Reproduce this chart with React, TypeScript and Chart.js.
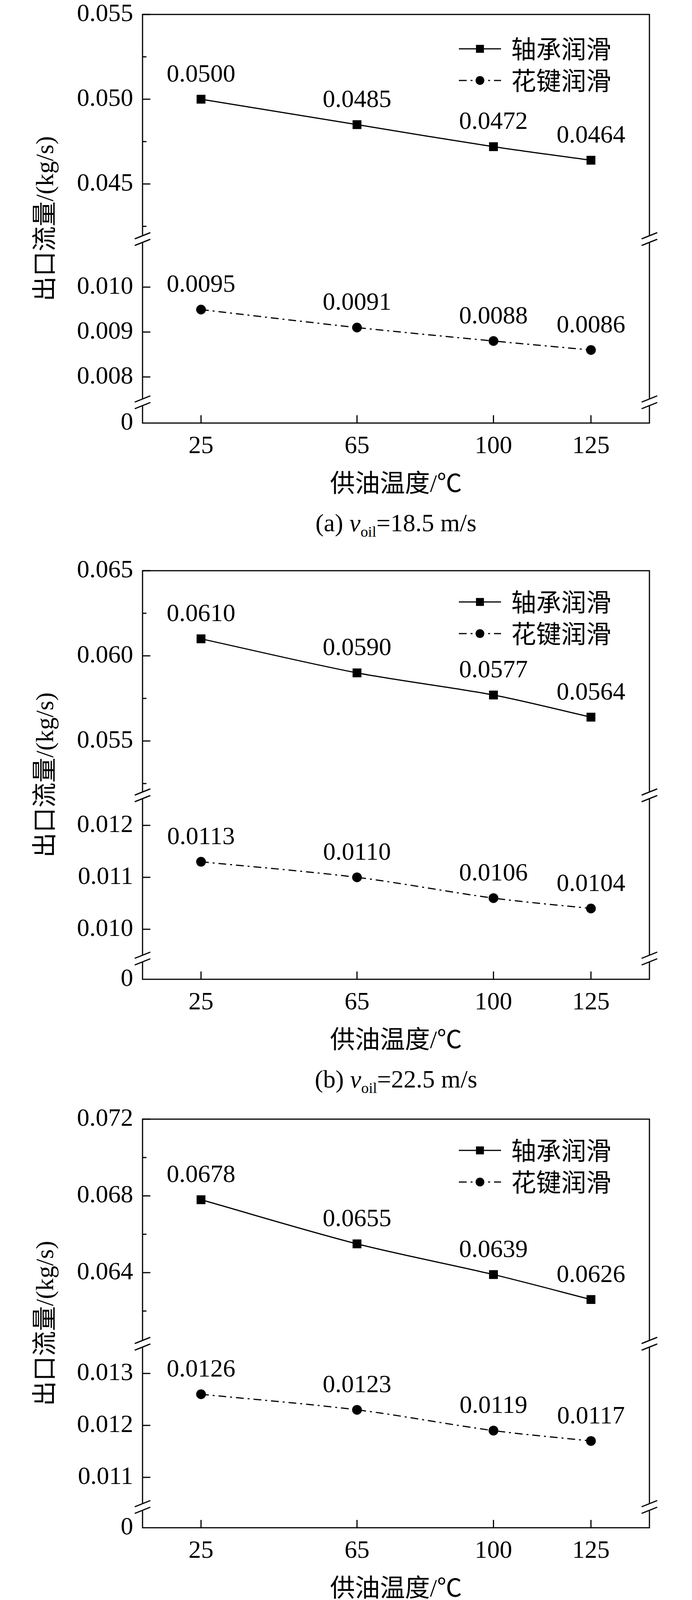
import { useEffect, useRef } from "react";
import { Chart, LinearScale, registerables } from "chart.js";

Chart.register(...registerables);

// supply oil temperature (℃)
const temps = [25, 65, 100, 125];

// outlet flow (kg/s)
const bearingA = [0.05, 0.0485, 0.0472, 0.0464];
const splineA = [0.0095, 0.0091, 0.0088, 0.0086];
const bearingB = [0.061, 0.059, 0.0577, 0.0564];
const splineB = [0.0113, 0.011, 0.0106, 0.0104];
const bearingC = [0.0678, 0.0655, 0.0639, 0.0626];
const splineC = [0.0126, 0.0123, 0.0119, 0.0117];

const seriesNames = ["轴承润滑", "花键润滑"];

// y tick labels and minor ticks per panel
const yTicksA = [0, 0.008, 0.009, 0.01, 0.045, 0.05, 0.055];
const yMinorA = [0.0425, 0.0475, 0.0525];
const yTicksB = [0, 0.01, 0.011, 0.012, 0.055, 0.06, 0.065];
const yMinorB = [0.0525, 0.0575, 0.0625];
const yTicksC = [0, 0.011, 0.012, 0.013, 0.064, 0.068, 0.072];
const yMinorC = [0.062, 0.066, 0.07];

// visible value ranges of the broken y axis (lower part, upper part)
const lowerA = [0.007435, 0.01107];
const upperA = [0.04175, 0.055];
const lowerB = [0.009436, 0.012579];
const upperB = [0.05181, 0.065];
const lowerC = [0.010429, 0.013572];
const upperC = [0.060295, 0.072];

const SERIF = "'Liberation Serif', 'Times New Roman', Times, serif";
const MIXED = "'Liberation Serif', 'Times New Roman', Times, serif, 'Noto Sans CJK SC'";
const CJK = "'Noto Sans CJK SC', sans-serif";

// fraction of the plot height where each part of the broken axis ends
const ZERO_END = 0.0507;
const LOWER_END = 0.4503;

// linear scale with two axis breaks: 0 | lower band | upper band
class BrokenScale extends LinearScale {
  static id = "broken";
  static defaults = LinearScale.defaults;

  getPixelForValue(value: number) {
    const lo = (this.options as any).lower;
    const up = (this.options as any).upper;
    let d;
    if (value <= lo[0]) d = (value / lo[0]) * ZERO_END;
    else if (value <= lo[1])
      d = ZERO_END + ((value - lo[0]) / (lo[1] - lo[0])) * (LOWER_END - ZERO_END);
    else if (value < up[0]) d = LOWER_END;
    else d = LOWER_END + ((value - up[0]) / (up[1] - up[0])) * (1 - LOWER_END);
    return this.getPixelForDecimal(d);
  }

  getValueForPixel(pixel: number) {
    const lo = (this.options as any).lower;
    const up = (this.options as any).upper;
    const d = this.getDecimalForPixel(pixel);
    if (d <= ZERO_END) return (d / ZERO_END) * lo[0];
    if (d <= LOWER_END)
      return lo[0] + ((d - ZERO_END) / (LOWER_END - ZERO_END)) * (lo[1] - lo[0]);
    return up[0] + ((d - LOWER_END) / (1 - LOWER_END)) * (up[1] - up[0]);
  }
}
Chart.register(BrokenScale);

type PanelProps = {
  top: number;
  bearing: number[];
  spline: number[];
  yTicks: number[];
  yMinor: number[];
  lower: number[];
  upper: number[];
  letter: string;
  speed: string;
  legendTop: number;
};

const Panel = (p: PanelProps) => {
  const chartRef = useRef<HTMLCanvasElement>(null);
  const chartInstanceRef = useRef<Chart | null>(null);

  useEffect(() => {
    if (!chartRef.current) return;
    const ctx = chartRef.current.getContext("2d");
    if (!ctx) return;
    if (chartInstanceRef.current) chartInstanceRef.current.destroy();

    const line = (c: CanvasRenderingContext2D, x1: number, y1: number, x2: number, y2: number) => {
      c.beginPath();
      c.moveTo(x1, y1);
      c.lineTo(x2, y2);
      c.stroke();
    };

    // value labels, frame, inward ticks, axis breaks, legend
    const decor = {
      id: "decor",
      afterDatasetsDraw(chart: any) {
        const c: CanvasRenderingContext2D = chart.ctx;
        const { left, right, top, bottom } = chart.chartArea;
        const xs = chart.scales.x;
        const ys = chart.scales.y;
        c.save();

        c.fillStyle = "#000";
        c.font = `64px ${SERIF}`;
        c.textAlign = "center";
        c.textBaseline = "middle";
        chart.data.datasets.forEach((ds: any, i: number) => {
          chart.getDatasetMeta(i).data.forEach((pt: any, j: number) => {
            c.fillText(ds.data[j].y.toFixed(4), pt.x, pt.y - 62);
          });
        });

        c.strokeStyle = "#000";
        c.lineWidth = 3;
        c.lineCap = "butt";
        c.setLineDash([]);
        c.strokeRect(left, top, right - left, bottom - top);

        p.yTicks.forEach((v) => {
          if (v === 0) return;
          const y = ys.getPixelForValue(v);
          line(c, left, y, left + 20, y);
        });
        p.yMinor.forEach((v) => {
          const y = ys.getPixelForValue(v);
          line(c, left, y, left + 10, y);
        });
        temps.forEach((v) => {
          const x = xs.getPixelForValue(v);
          line(c, x, bottom, x, bottom - 20);
        });

        const half = 8.5;
        const dx = 20;
        const dy = 8;
        [p.lower[0], p.upper[0]].forEach((v) => {
          const y = ys.getPixelForValue(v);
          [left, right].forEach((x) => {
            c.fillStyle = "#fff";
            c.beginPath();
            c.moveTo(x - 5, y - half + dy * 0.25);
            c.lineTo(x + 5, y - half - dy * 0.25);
            c.lineTo(x + 5, y + half - dy * 0.25);
            c.lineTo(x - 5, y + half + dy * 0.25);
            c.closePath();
            c.fill();
            line(c, x - dx, y - half + dy, x + dx, y - half - dy);
            line(c, x - dx, y + half + dy, x + dx, y + half - dy);
          });
        });

        // legend
        c.font = `64px ${CJK}`;
        c.textAlign = "left";
        c.fillStyle = "#000";
        chart.data.datasets.forEach((ds: any, i: number) => {
          const y = top + p.legendTop + i * 81;
          const x1 = right - 488;
          const x2 = right - 380;
          const xm = (x1 + x2) / 2;
          c.lineWidth = ds.borderWidth;
          c.setLineDash(ds.borderDash || []);
          line(c, x1, y, x2, y);
          c.setLineDash([]);
          const r = ds.pointRadius * 0.9;
          c.beginPath();
          if (ds.pointStyle === "rect") {
            const s = r * Math.SQRT1_2;
            c.rect(xm - s, y - s, 2 * s, 2 * s);
          } else {
            c.arc(xm, y, r, 0, Math.PI * 2);
          }
          c.fill();
          c.fillText(ds.label, right - 354, y);
        });

        c.restore();
      },
    };

    const chart = new Chart(ctx, {
      type: "line",
      data: {
        datasets: [
          {
            label: seriesNames[0],
            data: temps.map((t, i) => ({ x: t, y: p.bearing[i] })),
            borderColor: "#000",
            backgroundColor: "#000",
            borderWidth: 3,
            pointStyle: "rect",
            pointRadius: 16,
            pointBorderWidth: 0,
            tension: 0.3,
          },
          {
            label: seriesNames[1],
            data: temps.map((t, i) => ({ x: t, y: p.spline[i] })),
            borderColor: "#000",
            backgroundColor: "#000",
            borderWidth: 3,
            borderDash: [20, 10, 5, 10],
            pointStyle: "circle",
            pointRadius: 12.5,
            pointBorderWidth: 0,
            tension: 0.3,
          },
        ],
      },
      options: {
        responsive: true,
        maintainAspectRatio: false,
        animation: false,
        events: [],
        layout: { padding: { top: 37, right: 109, bottom: 0, left: 0 } },
        plugins: {
          legend: { display: false },
          tooltip: { enabled: false },
        },
        scales: {
          x: {
            type: "linear",
            min: 10,
            max: 140,
            afterBuildTicks: (s: any) => {
              s.ticks = temps.map((v) => ({ value: v }));
            },
            afterFit: (s: any) => {
              s.height = 217;
              s.paddingLeft = 0;
              s.paddingRight = 0;
            },
            grid: { display: false, drawTicks: false },
            border: { display: false },
            ticks: {
              color: "#000",
              font: { family: SERIF, size: 64 },
              padding: 22,
              autoSkip: false,
              maxRotation: 0,
              callback: (v: any) => String(v),
            },
            title: {
              display: true,
              text: "供油温度/℃",
              color: "#000",
              font: { family: MIXED, size: 64 },
              padding: { top: 0, bottom: 19 },
            },
          },
          y: {
            type: "broken",
            min: 0,
            max: p.upper[1],
            lower: p.lower,
            upper: p.upper,
            afterBuildTicks: (s: any) => {
              s.ticks = p.yTicks.map((v) => ({ value: v }));
            },
            afterFit: (s: any) => {
              s.width = 365;
              s.paddingTop = 0;
              s.paddingBottom = 0;
            },
            grid: { display: false, drawTicks: false },
            border: { display: false },
            ticks: {
              color: "#000",
              font: { family: SERIF, size: 64 },
              padding: 24,
              autoSkip: false,
              callback: (v: any) => (v === 0 ? "0" : Number(v).toFixed(3)),
            },
            title: {
              display: true,
              text: "出口流量/(kg/s)",
              color: "#000",
              font: { family: MIXED, size: 64 },
              padding: { top: 81, bottom: 0 },
            },
          } as any,
        },
      },
      plugins: [decor],
    });
    chartInstanceRef.current = chart;

    // redraw once the fonts are ready
    let alive = true;
    document.fonts.ready.then(() => {
      if (alive) chart.update();
    });

    return () => {
      alive = false;
      if (chartInstanceRef.current) {
        chartInstanceRef.current.destroy();
        chartInstanceRef.current = null;
      }
    };
  }, [p]);

  return (
    <div style={{ position: "absolute", left: 0, top: p.top, width: 1772 }}>
      <div style={{ position: "relative", width: 1772, height: 1300 }}>
        <canvas ref={chartRef}></canvas>
      </div>
      <div
        style={{
          boxSizing: "border-box",
          width: 1772,
          height: 78,
          lineHeight: "78px",
          paddingLeft: 365,
          paddingRight: 109,
          textAlign: "center",
          fontFamily: SERIF,
          fontSize: 64,
          color: "#000",
        }}
      >
        ({p.letter}) <i>v</i>
        <sub style={{ fontSize: "0.6em", lineHeight: 0 }}>oil</sub>={p.speed} m/s
      </div>
    </div>
  );
};

const panelA = {
  top: 0,
  bearing: bearingA,
  spline: splineA,
  yTicks: yTicksA,
  yMinor: yMinorA,
  lower: lowerA,
  upper: upperA,
  letter: "a",
  speed: "18.5",
  legendTop: 88,
};
const panelB = {
  top: 1424,
  bearing: bearingB,
  spline: splineB,
  yTicks: yTicksB,
  yMinor: yMinorB,
  lower: lowerB,
  upper: upperB,
  letter: "b",
  speed: "22.5",
  legendTop: 80,
};
const panelC = {
  top: 2828,
  bearing: bearingC,
  spline: splineC,
  yTicks: yTicksC,
  yMinor: yMinorC,
  lower: lowerC,
  upper: upperC,
  letter: "c",
  speed: "25",
  legendTop: 80,
};

export default function App() {
  return (
    <div
      style={{
        position: "absolute",
        left: 0,
        top: 0,
        width: 1772,
        height: 4219,
        background: "#fff",
      }}
    >
      <Panel {...panelA} />
      <Panel {...panelB} />
      <Panel {...panelC} />
    </div>
  );
}
